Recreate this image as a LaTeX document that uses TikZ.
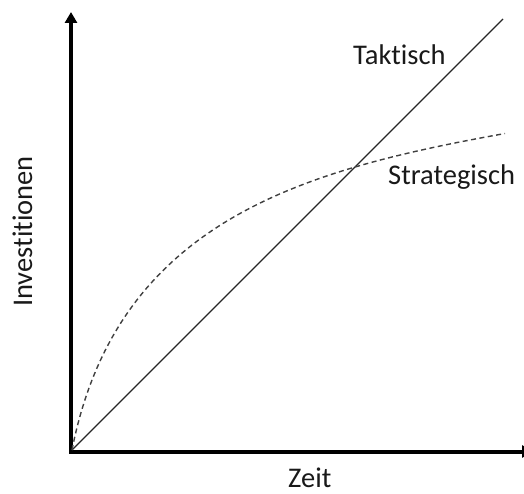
\documentclass[tikz,border=0pt]{standalone}
\usepackage{fontspec}
\setmainfont{Carlito}[Ligatures=NoCommon]
\usetikzlibrary{arrows.meta}
\tikzset{
  axis/.style={line width=4pt, draw=black, line join=miter,
    {Triangle[length=11pt,width=12pt]}-{Triangle[length=11pt,width=12pt]}},
  tactical/.style={line width=1.2pt, draw=black!85},
  strategic/.style={line width=1.4pt, draw=black!75, dash pattern=on 5pt off 3.5pt},
  label/.style={inner sep=0pt, text=black!90, font=\fontsize{28.5}{34}\selectfont}
}
\begin{document}
\begin{tikzpicture}[x=1pt,y=-1pt]
  \useasboundingbox (0,0) rectangle (524,494);
  \clip (0,0) rectangle (524,494);
  % axes
  \coordinate (O) at (71,451.5);
  \coordinate (ytop) at (71,12);
  \coordinate (xend) at (533,451.5);
  \draw[axis] (ytop) -- (O) -- (xend);
  % tactical: straight line, strategic: saturating curve
  \coordinate (start) at (72,450);
  \coordinate (tend) at (503,19);
  \coordinate (send) at (505,133.5);
  \draw[tactical] (start) -- (tend);
  \draw[strategic] (start) .. controls (117,220) and (305,169.5) .. (send);
  % labels
  \node[label, anchor=base west] (tak) at (353,65) {Taktisch};
  \node[label, anchor=base west] (str) at (388,185) {Strategisch};
  \node[label, anchor=base west] (zeit) at (288,487) {Zeit};
  \node[label, anchor=base west, rotate=90] (inv) at (32,307) {Investitionen};
\end{tikzpicture}
\end{document}
